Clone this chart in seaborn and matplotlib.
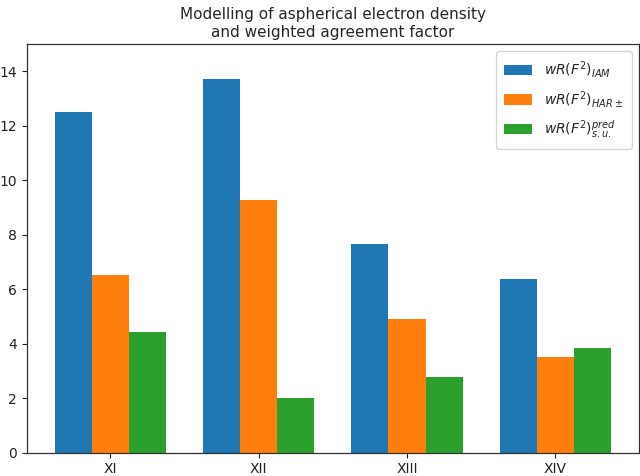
import matplotlib
matplotlib.use("Agg")
import matplotlib.pyplot as plt
import seaborn as sns
import pandas as pd

categories = ["XI", "XII", "XIII", "XIV"]
series_names = [r"$wR(F^2)_{IAM}$", r"$wR(F^2)_{HAR\pm}$", r"$wR(F^2)^{pred}_{s.u.}$"]
iam = [12.5, 13.7, 7.67, 6.37]
har = [6.5, 9.26, 4.89, 3.51]
pred = [4.41, 2.0, 2.77, 3.84]

rows = []
for name, vals in zip(series_names, [iam, har, pred]):
    for c, v in zip(categories, vals):
        rows.append({"cat": c, "series": name, "value": v})
df = pd.DataFrame(rows)

sns.set_style("ticks")
plt.rcParams["font.family"] = ["DejaVu Sans"]

fig = plt.figure(figsize=(6.4, 4.76), dpi=100)
ax = fig.add_axes([0.042, 0.049, 0.956, 0.859])
palette = ["#1f77b4", "#ff7f0e", "#2ca02c"]
sns.barplot(data=df, x="cat", y="value", hue="series", palette=palette,
            width=0.75, saturation=1, ax=ax, errorbar=None, linewidth=0)
ax.set_xlim(-0.5625, 3.5625)
ax.set_ylim(0, 15)
ax.set_xlabel("")
ax.set_ylabel("")
ax.tick_params(labelsize=10, colors="#222222")
for s in ax.spines.values():
    s.set_color("#333333")
    s.set_linewidth(0.9)
ax.set_title("Modelling of aspherical electron density\nand weighted agreement factor", fontsize=11, pad=5)
ax.legend(loc="upper right", fontsize=10, title=None, labelspacing=0.62,
          borderpad=0.6, handletextpad=0.9, handleheight=0.8, frameon=True,
          fancybox=True, edgecolor="#cccccc")
fig.savefig("out.png", dpi=100)
